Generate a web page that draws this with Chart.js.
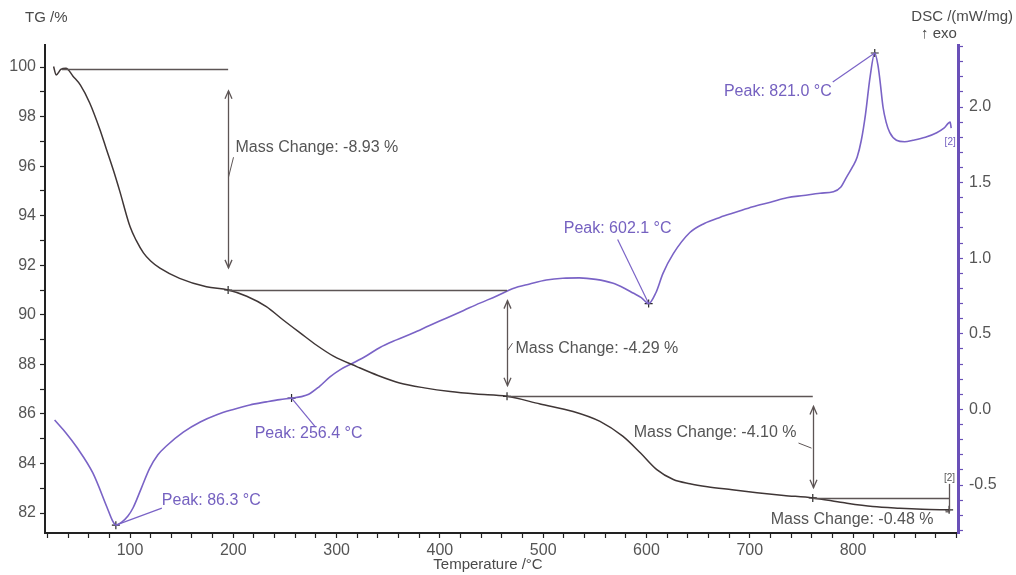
<!DOCTYPE html>
<html>
<head>
<meta charset="utf-8">
<script src="https://cdn.jsdelivr.net/npm/chart.js@4.4.1/dist/chart.umd.min.js"></script>
<style>
  html, body { margin: 0; padding: 0; background: #ffffff; overflow: hidden; }
  #wrap { width: 1016px; height: 575px; position: relative; }
</style>
</head>
<body>
<div id="wrap"><canvas id="c" width="1016" height="575"></canvas></div>
<script>
// Thermogravimetric (TG) curve: temperature in °C, residual mass in %
const tgTemp = [26, 28.5, 33, 38, 45, 52, 61, 71, 77, 84, 90, 100, 106, 113, 120, 129, 148, 174, 195, 213, 232, 248, 265, 281, 297, 320, 340, 361, 385, 410, 435, 465, 497, 529, 555, 577, 594, 610, 626, 642, 659, 683, 707, 733, 761, 790, 819, 845, 867, 893];
const tgMass = [100.02, 99.68, 99.9, 99.95, 99.62, 99.27, 98.55, 97.46, 96.7, 95.82, 95.0, 93.56, 93.0, 92.5, 92.17, 91.88, 91.47, 91.13, 91.0, 90.75, 90.33, 89.8, 89.26, 88.76, 88.33, 87.9, 87.55, 87.25, 87.05, 86.9, 86.8, 86.71, 86.4, 86.1, 85.7, 85.1, 84.43, 83.75, 83.35, 83.18, 83.06, 82.94, 82.82, 82.71, 82.61, 82.42, 82.26, 82.19, 82.15, 82.13];

// Differential scanning calorimetry (DSC) signal in mW/mg, exo up
const dscTemp = [27, 38, 48.5, 64, 77.6, 83, 86.3, 92, 98, 103, 111, 119, 127, 135.5, 151.6, 168, 184, 200, 216, 232, 245, 256.4, 266, 273, 283, 293.6, 304, 316, 329, 342, 358, 374, 390, 406.6, 423, 438.7, 455, 470.8, 487, 503, 519, 535, 551, 567, 579, 587, 595, 602.1, 609, 616, 626, 642, 656, 671, 687, 703, 720, 736, 752, 768, 781, 788, 794, 800, 804, 808, 812, 816.5, 821.0, 824, 826, 829, 832, 835.6, 842, 850, 858, 870, 881, 888, 894, 895];
const dscSignal = [-0.07, -0.155, -0.25, -0.42, -0.645, -0.735, -0.765, -0.745, -0.705, -0.65, -0.52, -0.39, -0.30, -0.24, -0.15, -0.083, -0.035, 0.0, 0.03, 0.05, 0.065, 0.075, 0.085, 0.10, 0.15, 0.215, 0.265, 0.307, 0.355, 0.41, 0.46, 0.505, 0.555, 0.605, 0.655, 0.703, 0.75, 0.80, 0.83, 0.856, 0.868, 0.87, 0.86, 0.836, 0.80, 0.77, 0.74, 0.70, 0.77, 0.90, 1.03, 1.17, 1.23, 1.27, 1.305, 1.34, 1.37, 1.40, 1.415, 1.43, 1.44, 1.47, 1.54, 1.61, 1.67, 1.78, 1.95, 2.20, 2.357, 2.28, 2.18, 2.0, 1.9, 1.83, 1.78, 1.77, 1.78, 1.80, 1.83, 1.86, 1.90, 1.86];

// DSC peak temperatures (°C)
const peakTemps = [86.3, 256.4, 602.1, 821.0];

// Mass-change evaluation: start of the first step and the temperatures that close each step
const massStartTemp = 34;
const massStartLevel = 99.93;
const stepTemps = [195, 465, 761, 893];
const massChanges = [-8.93, -4.29, -4.10, -0.48];

// Labelled tick values
const xTickLabels = [100, 200, 300, 400, 500, 600, 700, 800];
const tgTickLabels = [82, 84, 86, 88, 90, 92, 94, 96, 98, 100];
const dscTickLabels = [-0.5, 0.0, 0.5, 1.0, 1.5, 2.0];

const FONT = '"Liberation Sans", Arial, Helvetica, sans-serif';
const TG_COLOR = '#3f3636';
const DSC_COLOR = '#7a63c6';
const DSC_TEXT = '#7561c0';
const ANN_COLOR = '#5d5555';
const TEXT_COLOR = '#555555';

const dscAt = t => dscSignal[dscTemp.indexOf(t)];

// cumulative TG levels between the steps
const massLevels = [massStartLevel];
massChanges.forEach(d => massLevels.push(+(massLevels[massLevels.length - 1] + d).toFixed(2)));

const near = (v, list) => list.some(l => Math.abs(l - v) < 1e-6);

function line(ctx, x1, y1, x2, y2) {
  ctx.beginPath(); ctx.moveTo(x1, y1); ctx.lineTo(x2, y2); ctx.stroke();
}
function arrowHead(ctx, x, y, dir) {
  ctx.beginPath();
  ctx.moveTo(x - 3.5, y - dir * 8);
  ctx.lineTo(x, y);
  ctx.lineTo(x + 3.5, y - dir * 8);
  ctx.stroke();
}

const annotations = {
  id: 'annotations',
  afterDatasetsDraw(chart) {
    const { ctx, scales: { x, y, y2 } } = chart;
    const px = t => x.getPixelForValue(t);
    const pyT = v => y.getPixelForValue(v);
    const pyD = v => y2.getPixelForValue(v);
    ctx.save();
    ctx.lineCap = 'butt';

    // ---- mass-change steps ----
    const starts = [massStartTemp].concat(stepTemps.slice(0, -1));
    ctx.strokeStyle = ANN_COLOR;
    ctx.lineWidth = 1.3;
    for (let i = 0; i < stepTemps.length; i++) {
      const yl = Math.round(pyT(massLevels[i])) + 0.5;
      line(ctx, px(starts[i]), yl, px(stepTemps[i]), yl);
    }
    ctx.font = '16px ' + FONT;
    ctx.fillStyle = TEXT_COLOR;
    ctx.textBaseline = 'middle';
    for (let i = 0; i < stepTemps.length; i++) {
      const ax = Math.round(px(stepTemps[i])) + 0.5;
      const yTop = pyT(massLevels[i]);
      const yBot = pyT(massLevels[i + 1]);
      const h = yBot - yTop;
      const text = 'Mass Change: ' + massChanges[i].toFixed(2) + ' %';
      ctx.strokeStyle = ANN_COLOR;
      ctx.lineWidth = 1.3;
      if (i < 3) {
        const gap = Math.max(9, 0.1 * h);
        line(ctx, ax, yTop + gap, ax, yBot - gap);
        arrowHead(ctx, ax, yTop + gap, -1);
        arrowHead(ctx, ax, yBot - gap, 1);
      }
      ctx.lineWidth = 1;
      if (i === 0) {
        line(ctx, ax, yTop + 0.49 * h, ax + 5, yTop + 0.40 * h);
        ctx.textAlign = 'left';
        ctx.fillText(text, ax + 7, yTop + 0.355 * h);
      } else if (i === 1) {
        line(ctx, ax, yTop + 0.57 * h, ax + 5, yTop + 0.50 * h);
        ctx.textAlign = 'left';
        ctx.fillText(text, ax + 8, yTop + 0.55 * h);
      } else if (i === 2) {
        line(ctx, ax - 2, yTop + 0.51 * h, ax - 15, yTop + 0.46 * h);
        ctx.textAlign = 'right';
        ctx.fillText(text, ax - 17, yTop + 0.36 * h);
      } else {
        ctx.lineWidth = 1.3;
        line(ctx, ax, yTop - 14, ax, yBot + 2);
        line(ctx, ax - 4, yBot + 2, ax, yBot + 2);
        ctx.textAlign = 'right';
        ctx.fillText(text, ax - 16, yBot + 10);
        ctx.font = '10px ' + FONT;
        ctx.textAlign = 'center';
        ctx.fillText('[2]', ax, yTop - 20);
        ctx.font = '16px ' + FONT;
      }
    }

    // ---- DSC peak labels ----
    const peakLayout = [
      { lx: 46, ly: -17, tx: 46, ty: -25, align: 'left' },
      { lx: 24, ly: 29, tx: 17, ty: 35, align: 'center' },
      { lx: -31, ly: -64, tx: -31, ty: -75, align: 'center' },
      { lx: -42, ly: 29, tx: -43, ty: 39, align: 'right' }
    ];
    ctx.strokeStyle = DSC_COLOR;
    ctx.fillStyle = DSC_TEXT;
    ctx.lineWidth = 1.2;
    peakTemps.forEach((t, i) => {
      const mx = px(t), my = pyD(dscAt(t));
      const L = peakLayout[i];
      line(ctx, mx, my, mx + L.lx, my + L.ly);
      ctx.textAlign = L.align;
      ctx.fillText('Peak: ' + t.toFixed(1) + ' °C', mx + L.tx, my + L.ty);
    });

    // end marker of the DSC curve
    const lastT = dscTemp[dscTemp.length - 1];
    ctx.font = '10px ' + FONT;
    ctx.textAlign = 'center';
    ctx.fillText('[2]', px(lastT) - 1, pyD(dscSignal[dscSignal.length - 1]) + 14);

    // ---- axis titles ----
    ctx.fillStyle = '#4a4a4a';
    ctx.font = '15px ' + FONT;
    ctx.textAlign = 'left';
    ctx.fillText('TG /%', 25, 18);
    ctx.textAlign = 'right';
    ctx.fillText('DSC /(mW/mg)', 1013, 17);
    ctx.textAlign = 'center';
    ctx.fillText('\u2191 exo', 939, 34);
    ctx.fillText('Temperature /°C', 488, 565);
    ctx.restore();
  }
};

const tickFont = { family: FONT, size: 16 };

new Chart(document.getElementById('c'), {
  type: 'line',
  data: {
    datasets: [
      {
        label: 'TG',
        data: tgTemp.map((t, i) => ({ x: t, y: tgMass[i] })),
        yAxisID: 'y',
        borderColor: TG_COLOR,
        borderWidth: 1.5,
        pointRadius: 0,
        cubicInterpolationMode: 'monotone'
      },
      {
        label: 'DSC',
        data: dscTemp.map((t, i) => ({ x: t, y: dscSignal[i] })),
        yAxisID: 'y2',
        borderColor: DSC_COLOR,
        borderWidth: 1.6,
        pointRadius: 0,
        cubicInterpolationMode: 'monotone'
      },
      {
        label: 'DSC peaks',
        data: peakTemps.map(t => ({ x: t, y: dscAt(t) })),
        yAxisID: 'y2',
        showLine: false,
        pointStyle: 'cross',
        pointRadius: 4,
        borderColor: '#2a2a2a',
        borderWidth: 1.2
      },
      {
        label: 'TG steps',
        data: stepTemps.map((t, i) => ({ x: t, y: massLevels[i + 1] })),
        yAxisID: 'y',
        showLine: false,
        pointStyle: 'cross',
        pointRadius: 4,
        borderColor: '#2a2a2a',
        borderWidth: 1.2
      }
    ]
  },
  options: {
    responsive: false,
    animation: false,
    devicePixelRatio: 1,
    layout: { padding: { top: 45, left: 0, right: 0, bottom: 0 } },
    plugins: { legend: { display: false }, tooltip: { enabled: false } },
    scales: {
      x: {
        type: 'linear',
        position: 'bottom',
        min: 17.7,
        max: 901.6,
        ticks: {
          stepSize: 20,
          autoSkip: false,
          maxRotation: 0,
          includeBounds: false,
          padding: 3,
          color: TEXT_COLOR,
          font: tickFont,
          callback: v => near(v, xTickLabels) ? String(Math.round(v)) : ''
        },
        grid: { drawOnChartArea: false, tickLength: 5, color: '#222', tickWidth: 1.2 },
        border: { color: '#222', width: 2 },
        afterFit: s => { s.height = 42; }
      },
      y: {
        position: 'left',
        min: 81.193,
        max: 100.888,
        ticks: {
          stepSize: 1,
          autoSkip: false,
          includeBounds: false,
          padding: 4,
          color: TEXT_COLOR,
          font: tickFont,
          callback: v => near(v, tgTickLabels) ? String(Math.round(v)) : ''
        },
        grid: { drawOnChartArea: false, tickLength: 5, color: '#222', tickWidth: 1.2 },
        border: { color: '#222', width: 2 },
        afterFit: s => { s.width = 45; }
      },
      y2: {
        position: 'right',
        min: -0.817,
        max: 2.41,
        ticks: {
          stepSize: 0.1,
          autoSkip: false,
          includeBounds: false,
          padding: 6,
          color: TEXT_COLOR,
          font: tickFont,
          callback: v => near(v, dscTickLabels) ? v.toFixed(1) : ''
        },
        grid: { drawOnChartArea: false, tickLength: 5, color: '#6a50b8', tickWidth: 1.2 },
        border: { color: '#6a50b8', width: 3 },
        afterFit: s => { s.width = 58; }
      }
    }
  },
  plugins: [annotations]
});
</script>
</body>
</html>
